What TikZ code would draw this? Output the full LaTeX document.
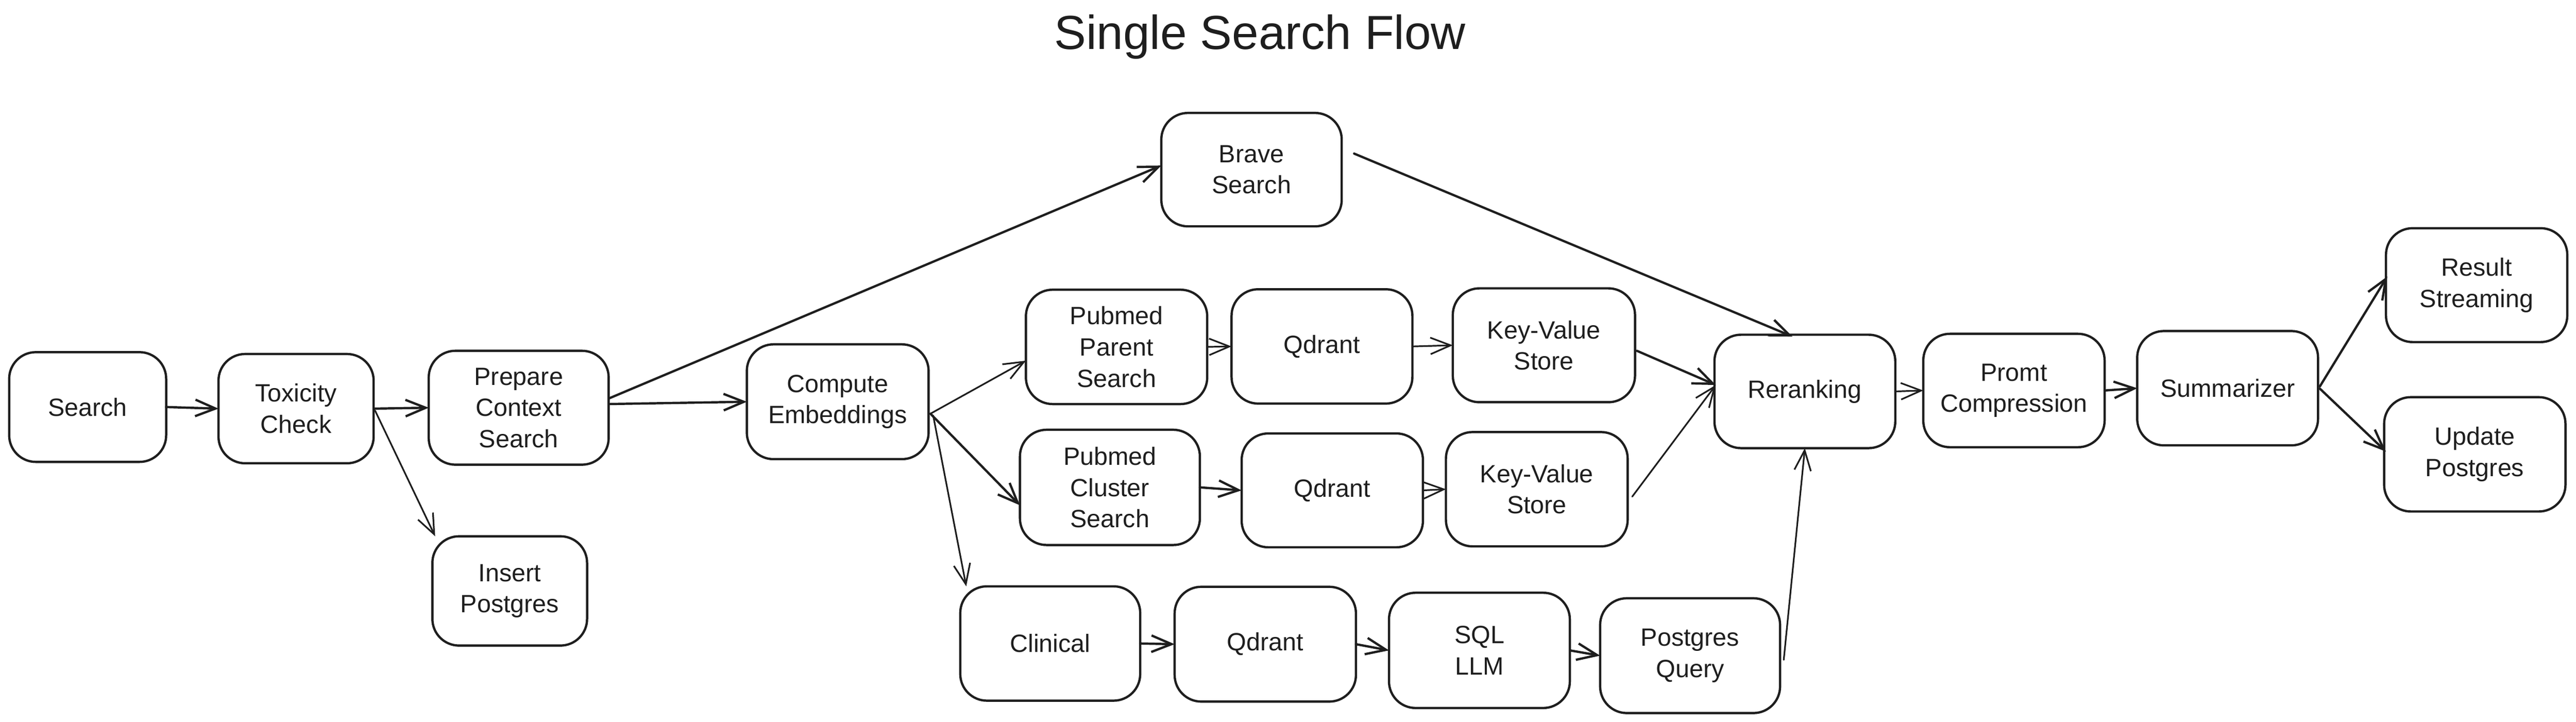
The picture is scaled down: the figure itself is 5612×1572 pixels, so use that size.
\documentclass[tikz,border=0pt]{standalone}
\usepackage{fontspec}
\setmainfont{Liberation Sans}
\usetikzlibrary{arrows.meta,calc}
\definecolor{ink}{HTML}{1E1E1E}
\newcommand\mybox[6]{%
  \pgfmathsetmacro\bw{(#4-#2)*0.25}%
  \pgfmathsetmacro\bh{(#5-#3)*0.25}%
  \node[box,minimum width=\bw pt,minimum height=\bh pt] (#1) at ({(#2+#4)/2},{(#3+#5)/2}) {#6};}
\tikzset{
  box/.style={draw=ink, line width=1.25pt, rounded corners=14.5pt, fill=white, align=center,
    inner sep=0pt, outer sep=0pt, font=\fontsize{13.6}{17}\selectfont, text=ink},
  arr/.style={draw=ink, line width=1.25pt, line cap=round, -{Straight Barb[length=11pt,width=9pt]}},
  tarr/.style={arr, line width=0.9pt},
}
\begin{document}
\begin{tikzpicture}[x=0.25pt,y=-0.25pt]
\fill[white] (0,0) rectangle (5612,1572);
\useasboundingbox (0,0) rectangle (5612,1572);
\node[text=ink, font=\fontsize{26}{30}\selectfont] (title) at (2745,80) {Single Search Flow};
\mybox{search}{20}{767}{362}{1006}{Search}
\mybox{tox}{476}{771}{814}{1009}{Toxicity\\Check}
\mybox{prep}{934}{764}{1326}{1012}{Prepare\\Context\\Search}
\mybox{ins}{942}{1168}{1279}{1406}{Insert\\Postgres}
\mybox{brave}{2530}{246}{2923}{493}{Brave\\Search}
\mybox{comp}{1627}{750}{2023}{1000}{Compute\\Embeddings}
\mybox{ppar}{2235}{631}{2630}{880}{Pubmed\\Parent\\Search}
\mybox{qa}{2683}{630}{3077}{879}{Qdrant}
\mybox{kva}{3165}{628}{3562}{876}{Key-Value\\Store}
\mybox{pclu}{2222}{936}{2614}{1187}{Pubmed\\Cluster\\Search}
\mybox{qb}{2705}{944}{3100}{1192}{Qdrant}
\mybox{kvb}{3150}{941}{3546}{1190}{Key-Value\\Store}
\mybox{clin}{2092}{1277}{2484}{1526}{Clinical}
\mybox{qc}{2559}{1278}{2954}{1528}{Qdrant}
\mybox{sql}{3026}{1291}{3420}{1542}{SQL\\LLM}
\mybox{pq}{3486}{1303}{3878}{1553}{Postgres\\Query}
\mybox{rer}{3735}{729}{4129}{976}{Reranking}
\mybox{prom}{4190}{727}{4585}{974}{Promt\\Compression}
\mybox{summ}{4656}{721}{5050}{970}{Summarizer}
\mybox{res}{5198}{497}{5593}{745}{Result\\Streaming}
\mybox{upd}{5194}{865}{5589}{1114}{Update\\Postgres}
% connectors
\draw[arr] (search.east) -- (tox.west);
\draw[arr] (tox.east) -- (prep.west);
\draw[tarr] ($(tox.east)+(3,4)$) -- ($(ins.north west)+(6,0)$);
\draw[arr] ($(prep.east)+(0,-20)$) -- ($(brave.west)+(0,-9)$);
\draw[arr] ($(prep.east)+(0,-8)$) -- (comp.west);
\draw[tarr] ($(comp.east)+(4,26)$) -- ($(ppar.west)+(0,30)$);
\draw[arr] ($(comp.east)+(4,26)$) -- ($(pclu.west)+(0,39)$);
\draw[tarr] ($(comp.east)+(10,30)$) -- ($(clin.north west)+(13,0)$);
\draw[tarr] (ppar.east) -- (qa.west);
\draw[tarr] (qa.east) -- (kva.west);
\draw[arr] ($(kva.east)+(4,12)$) -- ($(rer.west)+(3,-14)$);
\draw[arr] (pclu.east) -- (qb.west);
\draw[tarr] (qb.east) -- (kvb.west);
\draw[tarr] ($(kvb.east)+(10,16)$) -- ($(rer.west)+(3,-14)$);
\draw[arr] ($(brave.east)+(27,-35)$) -- ($(rer.north)+(-27,4)$);
\draw[tarr] ($(pq.east)+(8,9)$) -- (rer.south);
\draw[arr] (clin.east) -- (qc.west);
\draw[arr] (qc.east) -- (sql.west);
\draw[arr] (sql.east) -- (pq.west);
\draw[tarr] (rer.east) -- (prom.west);
\draw[arr] (prom.east) -- (summ.west);
\draw[arr] ($(summ.east)+(4,-4)$) -- ($(res.west)+(3,-19)$);
\draw[arr] ($(summ.east)+(4,1)$) -- ($(upd.west)+(4,-6)$);
\end{tikzpicture}
\end{document}
